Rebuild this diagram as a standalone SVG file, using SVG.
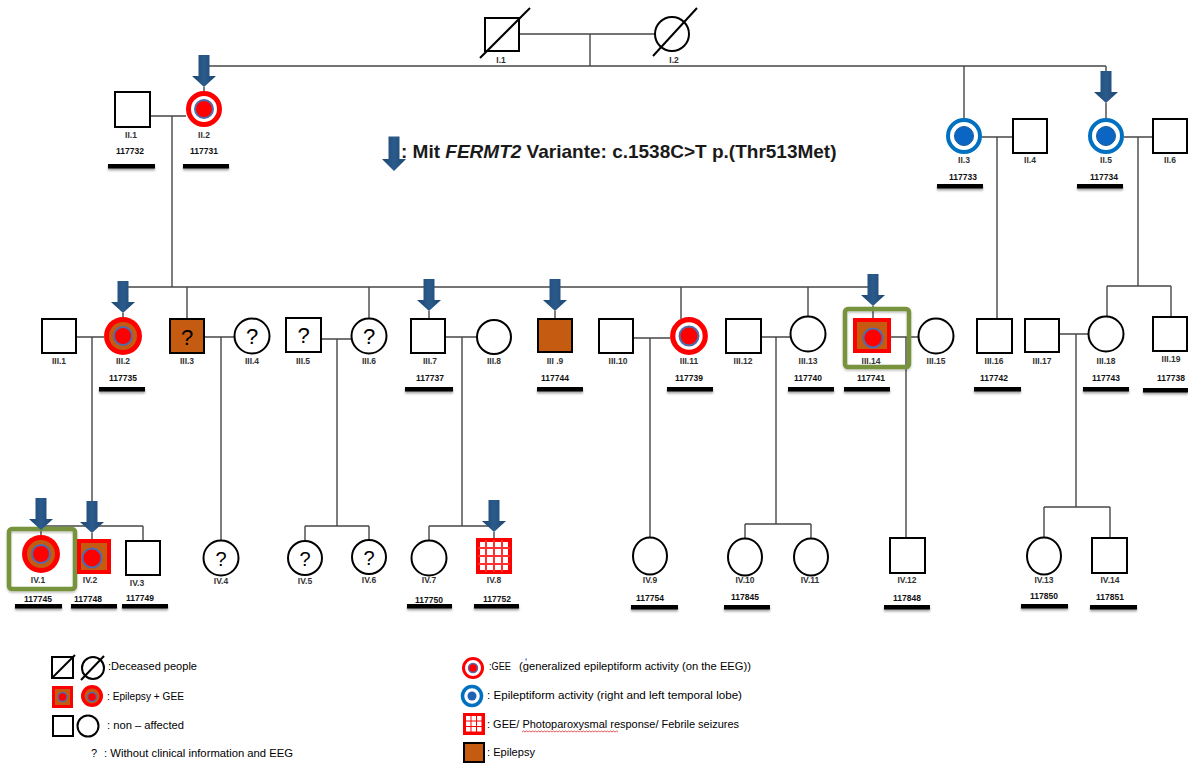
<svg xmlns="http://www.w3.org/2000/svg" xmlns:xlink="http://www.w3.org/1999/xlink" width="1188" height="765" viewBox="0 0 1188 765">
<defs>
<style>
.ln{stroke:#474747;stroke-width:1.4;fill:none}
.sq{fill:#fff;stroke:#000;stroke-width:2}
.dead{stroke:#000;stroke-width:2;fill:none}
.lbl{font-family:"Liberation Sans",Arial,sans-serif;font-weight:bold;font-size:8.5px;fill:#333;text-anchor:middle}
.id{font-family:"Liberation Sans",Arial,sans-serif;font-weight:bold;font-size:8.5px;fill:#111;text-anchor:middle}
.q{font-family:"Liberation Sans",Arial,sans-serif;font-size:22px;fill:#000;text-anchor:middle}
.qs{font-family:"Liberation Sans",Arial,sans-serif;font-size:20px;fill:#000;text-anchor:middle}
.bar{fill:#000;filter:url(#sh)}
.frame{fill:none;stroke:#77933C;stroke-width:4.5;filter:url(#sh2)}
.leg{font-family:"Liberation Sans",Arial,sans-serif;font-size:11px;fill:#000}
.title{font-family:"Liberation Sans",Arial,sans-serif;font-weight:bold;font-size:19px;fill:#1a1a1a}
.brown{fill:#C55A11}
.red{fill:#FF0000}
.inner{fill:#FF0000;stroke:#4F6BAE;stroke-width:2}
</style>
<filter id="sh" x="-20%" y="-100%" width="140%" height="400%">
<feDropShadow dx="0" dy="2" stdDeviation="1.2" flood-color="#000" flood-opacity="0.35"/>
</filter>
<filter id="sh2" x="-20%" y="-20%" width="140%" height="140%">
<feDropShadow dx="0" dy="1.5" stdDeviation="1.2" flood-color="#000" flood-opacity="0.25"/>
</filter>
<linearGradient id="ag" x1="0" y1="0" x2="1" y2="0">
<stop offset="0" stop-color="#1C4670"/>
<stop offset="0.5" stop-color="#2B5B8C"/>
<stop offset="1" stop-color="#1C4670"/>
</linearGradient>
<path id="arr" d="M-5.5,-32 H5.5 V-11 H12 L0,0 L-12,-11 H-5.5 Z" fill="url(#ag)"/>
<g id="gee">
<circle r="15.5" fill="#fff" stroke="#FF0000" stroke-width="5"/>
<circle r="9" class="inner"/>
</g>
<g id="epi">
<circle r="16" fill="#fff" stroke="#0070C0" stroke-width="4"/>
<circle r="9.5" fill="#0A66C2" stroke="#1B5AA0" stroke-width="1"/>
</g>
<g id="epigee">
<circle r="19" class="red"/>
<circle r="14" class="brown"/>
<circle r="9" class="inner"/>
</g>
</defs>
<rect width="1188" height="765" fill="#fff"/>

<g id="connectors">
<path class="ln" d="M519 34 H655 M590 34 V66 M204 66 H1106 M204 87 V91 M964 66 V118 M1106 66 V72 M1106 103 V118"/>
<path class="ln" d="M150 116 H186 M172 116 V287 M123 287 H873 M123 313 V317 M187 287 V319 M369 287 V318.5 M429 311 V319 M555 311 V319 M681 287 V319 M808 287 V316.5 M873 306 V318"/>
<path class="ln" d="M982 137 H1013 M997 137 V319 M1124 137 H1153 M1138 137 V286 M1107 286 H1171 M1107 286 V316.5 M1171 286 V317"/>
<path class="ln" d="M76 337 H104 M92 337 V526 M41 526 H143 M143 526 V541 M41 530 V535 M92 533 V539"/>
<path class="ln" d="M204 337 H234.5 M221 337 V540.5"/>
<path class="ln" d="M321 339 H351.5 M337 339 V526 M305 526 H369 M305 526 V541 M369 526 V539.5"/>
<path class="ln" d="M445 337 H477 M462 337 V526 M429 526 H494 M429 526 V540.5 M494 532 V538"/>
<path class="ln" d="M633 338 H670.5 M650 338 V538"/>
<path class="ln" d="M761 337 H790.5 M776 337 V524 M745 524 H811 M745 524 V539 M811 524 V539"/>
<path class="ln" d="M891 337 H918.5 M906 337 V538"/>
<path class="ln" d="M1059 334 H1088.5 M1076 334 V507 M1044 507 H1110 M1044 507 V538 M1110 507 V538"/>
</g>

<g id="I.1"><rect class="sq" x="485" y="18" width="34" height="33"/><line class="dead" x1="480" y1="58" x2="530" y2="8"/><text class="lbl" x="501" y="63">I.1</text></g>
<g id="I.2"><circle class="sq" cx="672" cy="34" r="17"/><line class="dead" x1="653" y1="56" x2="697" y2="8"/><text class="lbl" x="674" y="63">I.2</text></g>

<g id="II.1"><rect class="sq" x="115" y="92" width="35" height="35"/><text class="lbl" x="131" y="138">II.1</text><text class="id" x="130" y="154">117732</text><rect class="bar" x="108" y="164" width="47" height="4.5"/></g>
<g id="II.2"><use href="#gee" x="204" y="109"/><use href="#arr" x="204" y="87"/><text class="lbl" x="204" y="138">II.2</text><text class="id" x="204" y="154">117731</text><rect class="bar" x="183" y="164" width="46" height="4.5"/></g>
<g id="II.3"><use href="#epi" x="964" y="136"/><text class="lbl" x="964" y="163">II.3</text><text class="id" x="963" y="180">117733</text><rect class="bar" x="937" y="184" width="46" height="4.5"/></g>
<g id="II.4"><rect class="sq" x="1013" y="119" width="34" height="34"/><text class="lbl" x="1030" y="163">II.4</text></g>
<g id="II.5"><use href="#epi" x="1106" y="136"/><use href="#arr" x="1106" y="103"/><text class="lbl" x="1106" y="163">II.5</text><text class="id" x="1104" y="180">117734</text><rect class="bar" x="1077" y="184" width="46" height="4.5"/></g>
<g id="II.6"><rect class="sq" x="1153" y="119" width="34" height="34"/><text class="lbl" x="1170" y="163">II.6</text></g>

<g id="legend-arrow"><use href="#arr" x="394" y="171" transform="translate(394 171) scale(1 1.08) translate(-394 -171)"/><text class="title" x="401" y="158">: Mit <tspan font-style="italic">FERMT2</tspan> Variante: c.1538C&gt;T p.(Thr513Met)</text></g>

<g id="III.1"><rect class="sq" x="42" y="319" width="34" height="34"/><text class="lbl" x="59" y="364">III.1</text></g>
<g id="III.2"><use href="#epigee" x="123" y="336"/><use href="#arr" x="123" y="313"/><text class="lbl" x="123" y="364">III.2</text><text class="id" x="123" y="381">117735</text><rect class="bar" x="99" y="387" width="46" height="4.5"/></g>
<g id="III.3"><rect class="sq" style="fill:#C55A11" x="170" y="319" width="34" height="34"/><text class="q" x="187" y="345">?</text><text class="lbl" x="187" y="364">III.3</text></g>
<g id="III.4"><circle class="sq" cx="252" cy="336" r="17.5"/><text class="q" x="252" y="344">?</text><text class="lbl" x="252" y="364">III.4</text></g>
<g id="III.5"><rect class="sq" x="286" y="318" width="35" height="34"/><text class="q" x="303.5" y="343">?</text><text class="lbl" x="303" y="364">III.5</text></g>
<g id="III.6"><circle class="sq" cx="369" cy="336" r="17.5"/><text class="q" x="369" y="344">?</text><text class="lbl" x="369" y="364">III.6</text></g>
<g id="III.7"><rect class="sq" x="411" y="319" width="34" height="34"/><use href="#arr" x="429" y="311"/><text class="lbl" x="430" y="364">III.7</text><text class="id" x="430" y="381">117737</text><rect class="bar" x="405" y="387" width="48" height="4.5"/></g>
<g id="III.8"><circle class="sq" cx="494" cy="337" r="17"/><text class="lbl" x="494" y="364">III.8</text></g>
<g id="III.9"><rect class="sq" style="fill:#C55A11" x="538" y="319" width="34" height="33"/><use href="#arr" x="555" y="311"/><text class="lbl" x="555" y="364">III .9</text><text class="id" x="555" y="381">117744</text><rect class="bar" x="537" y="387" width="46" height="4.5"/></g>
<g id="III.10"><rect class="sq" x="599" y="319" width="34" height="34"/><text class="lbl" x="618" y="364">III.10</text></g>
<g id="III.11"><g transform="translate(689 336) scale(1.05)"><use href="#gee"/></g><text class="lbl" x="689" y="364">III.11</text><text class="id" x="689" y="381">117739</text><rect class="bar" x="667" y="387" width="46" height="4.5"/></g>
<g id="III.12"><rect class="sq" x="726" y="319" width="35" height="34"/><text class="lbl" x="743" y="364">III.12</text></g>
<g id="III.13"><circle class="sq" cx="808" cy="334" r="17.5"/><text class="lbl" x="808" y="364">III.13</text><text class="id" x="808" y="381">117740</text><rect class="bar" x="788" y="387" width="46" height="4.5"/></g>
<g id="III.14"><rect class="frame" x="845" y="309" width="64" height="58" rx="3"/><rect class="red" x="853" y="318" width="38" height="35"/><rect class="brown" x="857" y="322" width="30" height="27"/><circle class="inner" cx="873" cy="338" r="9.5"/><use href="#arr" x="873" y="306"/><text class="lbl" x="871" y="364">III.14</text><text class="id" x="871" y="381">117741</text><rect class="bar" x="844" y="387" width="46" height="4.5"/></g>
<g id="III.15"><circle class="sq" cx="936" cy="336" r="17.5"/><text class="lbl" x="936" y="364">III.15</text></g>
<g id="III.16"><rect class="sq" x="977" y="319" width="35" height="34"/><text class="lbl" x="994" y="364">III.16</text><text class="id" x="994" y="381">117742</text><rect class="bar" x="974" y="387" width="47" height="4.5"/></g>
<g id="III.17"><rect class="sq" x="1025" y="319" width="34" height="33"/><text class="lbl" x="1042" y="364">III.17</text></g>
<g id="III.18"><circle class="sq" cx="1106" cy="334" r="17.5"/><text class="lbl" x="1106" y="364">III.18</text><text class="id" x="1106" y="381">117743</text><rect class="bar" x="1083" y="387" width="46" height="4.5"/></g>
<g id="III.19"><rect class="sq" x="1153" y="317" width="34" height="34"/><text class="lbl" x="1171" y="362">III.19</text><text class="id" x="1171" y="381">117738</text><rect class="bar" x="1143" y="388" width="45" height="4.5"/></g>

<g id="IV.1"><rect class="frame" x="9" y="529" width="66" height="60" rx="3"/><use href="#epigee" x="41" y="554"/><use href="#arr" x="41" y="530"/><text class="lbl" x="38" y="583">IV.1</text><text class="id" x="38" y="602">117745</text><rect class="bar" x="15" y="604" width="47" height="4.5"/></g>
<g id="IV.2"><rect class="red" x="77" y="539" width="34" height="35"/><rect class="brown" x="81" y="543" width="26" height="27"/><circle class="inner" cx="92" cy="558" r="9.5"/><use href="#arr" x="92" y="533"/><text class="lbl" x="90" y="583">IV.2</text><text class="id" x="88" y="602">117748</text><rect class="bar" x="71" y="604" width="46" height="4.5"/></g>
<g id="IV.3"><rect class="sq" x="126" y="541" width="34" height="34"/><text class="lbl" x="137" y="586">IV.3</text><text class="id" x="140" y="601">117749</text><rect class="bar" x="122" y="604" width="46" height="4.5"/></g>
<g id="IV.4"><circle class="sq" cx="221" cy="558" r="17.5"/><text class="qs" x="221" y="566">?</text><text class="lbl" x="221" y="584">IV.4</text></g>
<g id="IV.5"><circle class="sq" cx="305" cy="558" r="17"/><text class="qs" x="305" y="566">?</text><text class="lbl" x="305" y="584">IV.5</text></g>
<g id="IV.6"><circle class="sq" cx="369" cy="557" r="17"/><text class="qs" x="369" y="565">?</text><text class="lbl" x="369" y="583">IV.6</text></g>
<g id="IV.7"><circle class="sq" cx="429" cy="558" r="17.5"/><text class="lbl" x="429" y="583">IV.7</text><text class="id" x="429" y="603">117750</text><rect class="bar" x="407" y="604" width="45" height="4.5"/></g>
<g id="IV.8"><rect x="478" y="540" width="32" height="32" fill="#fff" stroke="#FF0000" stroke-width="4"/><path d="M486 540 V572 M494 540 V572 M502 540 V572 M478 548 H510 M478 556 H510 M478 564 H510" stroke="#FF3030" stroke-width="2" fill="none"/><use href="#arr" x="494" y="532"/><text class="lbl" x="494" y="583">IV.8</text><text class="id" x="497" y="602">117752</text><rect class="bar" x="474" y="604" width="45" height="4.5"/></g>
<g id="IV.9"><ellipse class="sq" cx="650" cy="556" rx="17" ry="18.5"/><text class="lbl" x="650" y="583">IV.9</text><text class="id" x="650" y="601">117754</text><rect class="bar" x="631" y="605" width="47" height="4.5"/></g>
<g id="IV.10"><ellipse class="sq" cx="745" cy="557" rx="17" ry="18.5"/><text class="lbl" x="745" y="583">IV.10</text><text class="id" x="745" y="600">117845</text><rect class="bar" x="724" y="605" width="46" height="4.5"/></g>
<g id="IV.11"><ellipse class="sq" cx="811" cy="557" rx="17" ry="18.5"/><text class="lbl" x="810" y="583">IV.11</text></g>
<g id="IV.12"><rect class="sq" x="890" y="538" width="35" height="35"/><text class="lbl" x="907" y="583">IV.12</text><text class="id" x="907" y="601">117848</text><rect class="bar" x="884" y="605" width="46" height="4.5"/></g>
<g id="IV.13"><ellipse class="sq" cx="1044" cy="556" rx="17" ry="18.5"/><text class="lbl" x="1044" y="583">IV.13</text><text class="id" x="1044" y="599">117850</text><rect class="bar" x="1021" y="604" width="47" height="4.5"/></g>
<g id="IV.14"><rect class="sq" x="1092" y="538" width="35" height="35"/><text class="lbl" x="1110" y="583">IV.14</text><text class="id" x="1110" y="600">117851</text><rect class="bar" x="1090" y="605" width="47" height="4.5"/></g>

<g id="legend">
<rect class="sq" x="52" y="657" width="21" height="21"/><line class="dead" x1="53" y1="677" x2="75" y2="655"/>
<circle class="sq" cx="93" cy="668" r="11"/><line class="dead" x1="81" y1="680" x2="104" y2="656"/>
<text class="leg" x="108" y="670" textLength="89" lengthAdjust="spacingAndGlyphs">:Deceased people</text>
<rect class="red" x="52" y="686" width="21" height="22"/><rect class="brown" x="55" y="689" width="15" height="16"/><circle cx="62.5" cy="697" r="4.5" fill="#FF0000" stroke="#4F6BAE" stroke-width="1.5"/>
<circle cx="92" cy="696" r="11" class="red"/><circle cx="92" cy="696" r="7.5" class="brown"/><circle cx="92" cy="697" r="4.5" fill="#FF0000" stroke="#4F6BAE" stroke-width="1.5"/>
<text class="leg" x="107" y="700" textLength="77" lengthAdjust="spacingAndGlyphs">: Epilepsy + GEE</text>
<rect class="sq" x="53" y="716" width="20" height="20"/><circle class="sq" cx="88" cy="726" r="10.5"/>
<text class="leg" x="107" y="729" textLength="77" lengthAdjust="spacingAndGlyphs">: non – affected</text>
<text class="leg" x="91" y="757">?</text>
<text class="leg" x="104" y="757" textLength="189" lengthAdjust="spacingAndGlyphs">: Without clinical information and EEG</text>

<circle cx="473" cy="668" r="9.5" fill="#fff" stroke="#FF0000" stroke-width="3"/><circle cx="473" cy="668" r="4.5" fill="#FF0000" stroke="#4F6BAE" stroke-width="1.5"/>
<text class="leg" x="489" y="670" textLength="22" lengthAdjust="spacingAndGlyphs">:GEE</text>
<text class="leg" x="519" y="670" textLength="232" lengthAdjust="spacingAndGlyphs">(generalized epileptiform activity (on the EEG))</text>
<rect x="525.5" y="658.5" width="1.2" height="2" fill="#3050D0"/>
<circle cx="472" cy="696" r="9.5" fill="#fff" stroke="#0070C0" stroke-width="3.5"/><circle cx="472" cy="696" r="4.5" fill="#1F62B5"/>
<text class="leg" x="487" y="699" textLength="255" lengthAdjust="spacingAndGlyphs">: Epileptiform activity (right and left temporal lobe)</text>
<rect class="red" x="463" y="713" width="22" height="22"/>
<g fill="#fff"><rect x="466" y="716" width="4.5" height="4.5"/><rect x="471.5" y="716" width="4.5" height="4.5"/><rect x="477" y="716" width="4.5" height="4.5"/><rect x="466" y="721.5" width="4.5" height="4.5"/><rect x="471.5" y="721.5" width="4.5" height="4.5"/><rect x="477" y="721.5" width="4.5" height="4.5"/><rect x="466" y="727" width="4.5" height="4.5"/><rect x="471.5" y="727" width="4.5" height="4.5"/><rect x="477" y="727" width="4.5" height="4.5"/></g>
<text class="leg" x="487" y="728" textLength="252" lengthAdjust="spacingAndGlyphs">: GEE/ Photoparoxysmal response/ Febrile seizures</text>
<path d="M522 732 l1.5 -1 1.5 1 1.5 -1 1.5 1 1.5 -1 1.5 1 1.5 -1 1.5 1 1.5 -1 1.5 1 1.5 -1 1.5 1 1.5 -1 1.5 1 1.5 -1 1.5 1 1.5 -1 1.5 1 1.5 -1 1.5 1 1.5 -1 1.5 1 1.5 -1 1.5 1 1.5 -1 1.5 1 1.5 -1 1.5 1 1.5 -1 1.5 1 1.5 -1 1.5 1 1.5 -1 1.5 1 1.5 -1 1.5 1 1.5 -1 1.5 1 1.5 -1 1.5 1 1.5 -1 1.5 1 1.5 -1 1.5 1 1.5 -1 1.5 1 1.5 -1 1.5 1 1.5 -1 1.5 1 1.5 -1 1.5 1 1.5 -1 1.5 1 1.5 -1 1.5 1 1.5 -1 1.5 1 1.5 -1 1.5 1 1.5 -1 1.5 1 1.5 -1 1.5 1" fill="none" stroke="#E03030" stroke-width="0.8"/>
<rect x="464" y="743" width="20" height="19" fill="#C55A11" stroke="#000" stroke-width="2"/>
<text class="leg" x="487" y="756" textLength="48" lengthAdjust="spacingAndGlyphs">: Epilepsy</text>
</g>
</svg>
